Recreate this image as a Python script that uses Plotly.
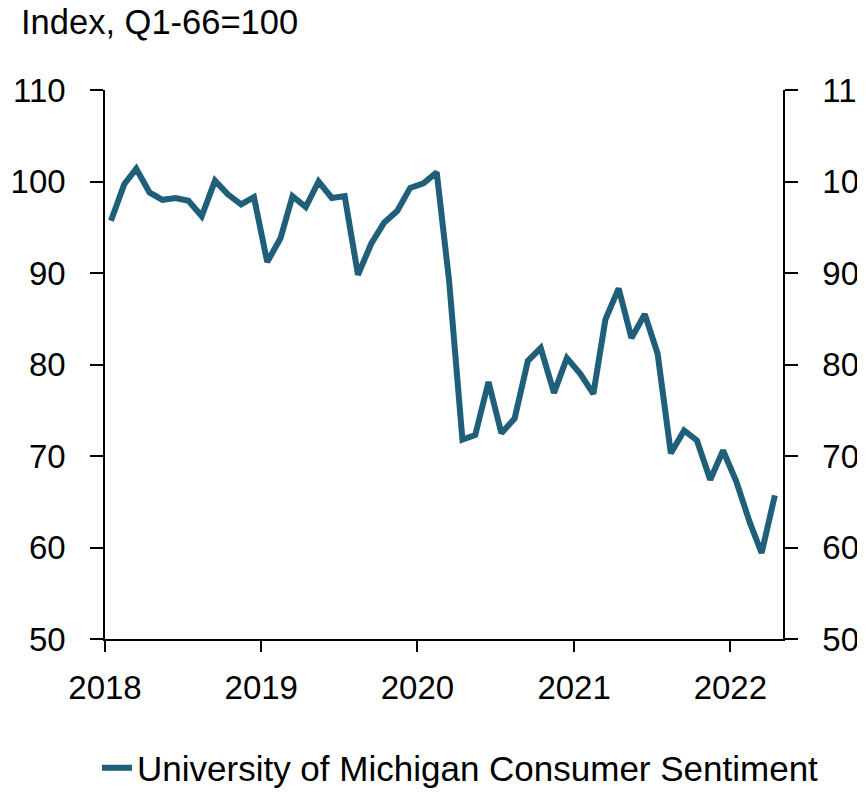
import plotly.graph_objects as go

months = [f"{y}-{m:02d}-15" for y in range(2018, 2023) for m in range(1, 13)][:52]
sentiment = [
    95.7, 99.7, 101.4, 98.8, 98.0, 98.2, 97.9, 96.2, 100.1, 98.6, 97.5, 98.3,
    91.2, 93.8, 98.4, 97.2, 100.0, 98.2, 98.4, 89.8, 93.2, 95.5, 96.8, 99.3,
    99.8, 101.0, 89.1, 71.8, 72.3, 78.1, 72.5, 74.1, 80.4, 81.8, 76.9, 80.7,
    79.0, 76.8, 84.9, 88.3, 82.9, 85.5, 81.2, 70.3, 72.8, 71.7, 67.4, 70.6,
    67.2, 62.8, 59.4, 65.7,
]
year_ticks = ["2018-01-01", "2019-01-01", "2020-01-01", "2021-01-01", "2022-01-01"]
year_labels = ["2018", "2019", "2020", "2021", "2022"]
y_ticks = [50, 60, 70, 80, 90, 100, 110]

FONT = "Liberation Sans, Arial, sans-serif"
COLOR = "#1F5F7A"

fig = go.Figure()
fig.add_trace(go.Scatter(
    x=months, y=sentiment, mode="lines",
    name="University of Michigan Consumer Sentiment",
    line=dict(color=COLOR, width=6),
))
# invisible trace for right axis
fig.add_trace(go.Scatter(x=months, y=sentiment, yaxis="y2", mode="lines",
                         line=dict(width=0), opacity=0, showlegend=False, hoverinfo="skip"))

axis_common = dict(
    range=[50, 110], tickvals=y_ticks, showgrid=False, zeroline=False,
    showline=True, linecolor="black", linewidth=1.5,
    ticks="outside", ticklen=13, tickwidth=1.5, tickcolor="black",
    ticklabelstandoff=18, automargin=False,
    tickfont=dict(family=FONT, size=33, color="black"),
)

fig.update_layout(
    width=865, height=793,
    margin=dict(l=97, r=90, t=82, b=162),
    paper_bgcolor="white", plot_bgcolor="white",
    font=dict(family=FONT, color="black"),
    xaxis=dict(
        type="date", range=["2018-01-01", "2022-05-04"],
        tickvals=year_ticks, ticktext=year_labels,
        showgrid=False, zeroline=False, showline=True, linecolor="black", linewidth=1.5,
        ticks="outside", ticklen=11, tickwidth=1.5, tickcolor="black",
        ticklabelstandoff=8, automargin=False,
        tickfont=dict(family=FONT, size=33, color="black"),
    ),
    yaxis=dict(side="left", **axis_common),
    yaxis2=dict(side="right", overlaying="y", **axis_common),
    showlegend=True,
    legend=dict(
        orientation="h", x=0.5 + 20 / 865, xanchor="center", xref="container",
        y=33 / 793, yanchor="middle", yref="container",
        font=dict(family=FONT, size=35, color="black"),
        bgcolor="rgba(0,0,0,0)",
    ),
    annotations=[dict(
        text="Index, Q1-66=100", xref="paper", yref="paper",
        x=-97 / 678, xanchor="left", xshift=11,
        y=(631 - 14) / 549, yanchor="middle",
        showarrow=False, font=dict(family=FONT, size=34.5, color="black"),
    )],
)

fig.write_html("out.html")
